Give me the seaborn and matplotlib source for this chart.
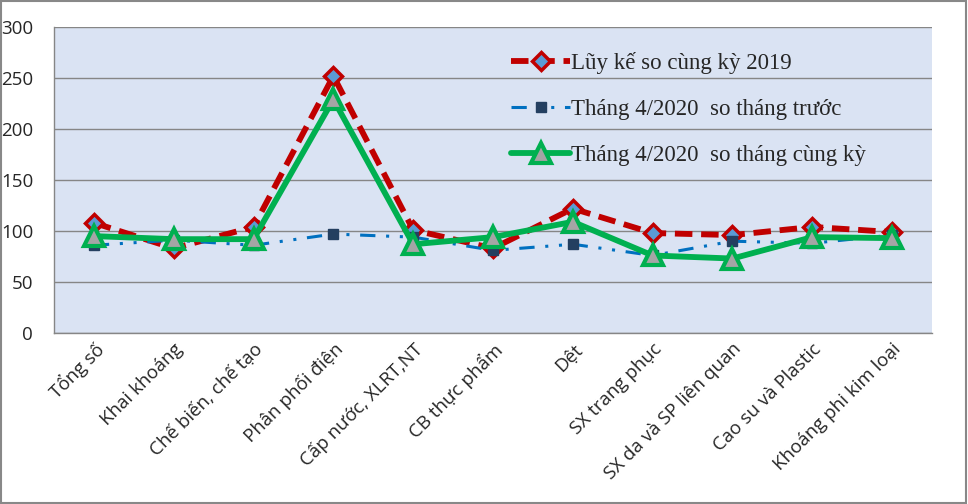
import matplotlib
matplotlib.use("Agg")
import matplotlib.pyplot as plt
import seaborn as sns
import pandas as pd
from matplotlib.patches import Rectangle
from matplotlib.ticker import FixedLocator

categories = ["Tổng số", "Khai khoáng", "Chế biến, chế tạo", "Phân phối điện",
              "Cấp nước, XLRT,NT", "CB thực phẩm", "Dệt", "SX trang phục",
              "SX da và SP liên quan", "Cao su và Plastic", "Khoáng phi kim loại"]
luy_ke = [108, 83, 104, 252, 101, 83, 122, 98, 96, 104, 99]
so_thang_truoc = [86, 91, 86, 97, 94, 81, 87, 76, 90, 88, 96]
so_cung_ky = [95, 92, 92, 229, 87, 94, 109, 76, 73, 94, 93]
series_names = ["Lũy kế so cùng kỳ 2019",
                "Tháng 4/2020  so tháng trước",
                "Tháng 4/2020  so tháng cùng kỳ"]
y_ticks = [0, 50, 100, 150, 200, 250, 300]

sns.set_theme(style="white")
plt.rcParams['font.family'] = ['Open Sans', 'DejaVu Sans']

fig = plt.figure(figsize=(9.68, 5.04), dpi=100)
ax = fig.add_axes([54/968, 1-333/504, (932-54)/968, (333-27)/504])
ax.set_facecolor('#DAE3F3')

df = pd.DataFrame({"cat": categories, "a": luy_ke, "b": so_thang_truoc, "c": so_cung_ky})

sns.lineplot(data=df, x="cat", y="a", ax=ax, color='#C00000', lw=4.2,
             linestyle=(0, (3.0, 1.5)), marker='D', markersize=9,
             markerfacecolor='#5B9BD5', markeredgecolor='#C00000', markeredgewidth=2.5,
             label=series_names[0], sort=False, zorder=3)
sns.lineplot(data=df, x="cat", y="b", ax=ax, color='#0070C0', lw=2.2,
             linestyle=(0, (5, 3.5, 1, 3.5, 1, 3.5)), marker='s', markersize=6.5,
             markerfacecolor='#243F60', markeredgecolor='#243F60', markeredgewidth=1,
             label=series_names[1], sort=False, zorder=4)
sns.lineplot(data=df, x="cat", y="c", ax=ax, color='#00B050', lw=4.2,
             linestyle='-', marker='^', markersize=15,
             markerfacecolor='#A5A5A5', markeredgecolor='#00B050', markeredgewidth=3,
             label=series_names[2], sort=False, zorder=5)

ax.set_xlim(-0.5, len(categories) - 0.5)
ax.set_ylim(0, 300)
ax.set_yticks(y_ticks)
ax.set_xticks(range(len(categories)))
ax.set_xticklabels(categories, rotation=45, ha='right', rotation_mode='anchor', fontsize=13.5)
ax.xaxis.set_minor_locator(FixedLocator([i - 0.5 for i in range(len(categories) + 1)]))
ax.tick_params(axis='x', which='major', length=0, pad=5)
ax.tick_params(axis='x', which='minor', length=6, color='#868686', width=1, direction='out')
ax.tick_params(axis='y', length=6, color='#868686', width=1, direction='out', pad=9, labelsize=13.5)
ax.set_xlabel("")
ax.set_ylabel("")
ax.grid(axis='y', color='#868686', linewidth=1)
ax.set_axisbelow(True)
for s in ['top', 'right']:
    ax.spines[s].set_visible(False)
for s in ['left', 'bottom']:
    ax.spines[s].set_color('#868686')
    ax.spines[s].set_linewidth(1)

leg = ax.legend(loc='upper left', bbox_to_anchor=((500-54)/878, (333-41)/306),
                frameon=False, borderpad=0, handlelength=2.55, handletextpad=0.05,
                labelspacing=1.07, numpoints=1,
                prop={'family': ['Liberation Serif'], 'size': 16.5})

fig.patches.append(Rectangle((0.001, 0.001), 0.997, 0.997, transform=fig.transFigure,
                             fill=False, edgecolor='#888888', linewidth=1.5))
fig.savefig("out.png", dpi=100)
